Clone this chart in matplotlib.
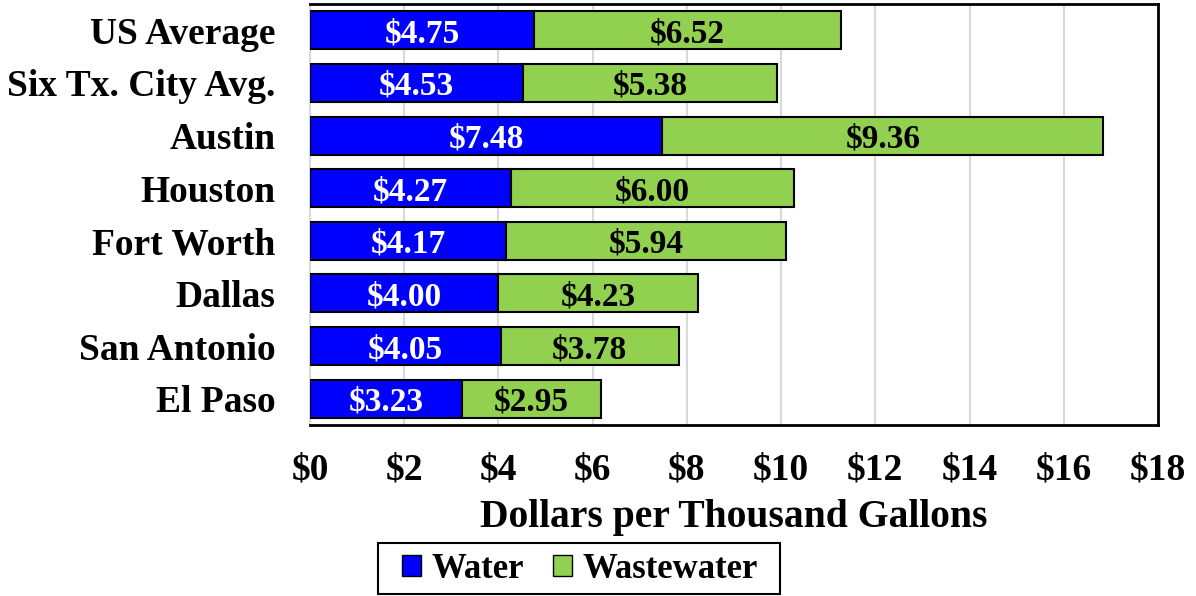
import matplotlib
matplotlib.use("Agg")
import matplotlib.pyplot as plt
from matplotlib.patches import Patch, Rectangle

categories = ["US Average", "Six Tx. City Avg.", "Austin", "Houston",
              "Fort Worth", "Dallas", "San Antonio", "El Paso"]
water = [4.75, 4.53, 7.48, 4.27, 4.17, 4.00, 4.05, 3.23]
wastewater = [6.52, 5.38, 9.36, 6.00, 5.94, 4.23, 3.78, 2.95]
xticks = [0, 2, 4, 6, 8, 10, 12, 14, 16, 18]
xlabel = "Dollars per Thousand Gallons"

plt.rcParams['font.family'] = ['Liberation Serif', 'DejaVu Serif']
plt.rcParams['font.weight'] = 'bold'

W, H = 1196, 596
fig = plt.figure(figsize=(W/100, H/100), dpi=100)
ax = fig.add_axes([310/W, 1-425/H, (1158-310)/W, (425-4)/H])

n = len(categories)
ypos = [n - 1 - i for i in range(n)]
h = 0.72
blue = "#0000FF"
green = "#92D050"
ax.barh(ypos, water, height=h, color=blue, edgecolor="black", linewidth=1.5, zorder=3)
ax.barh(ypos, wastewater, left=water, height=h, color=green, edgecolor="black", linewidth=1.5, zorder=3)

for y, w, ww in zip(ypos, water, wastewater):
    ax.text(w/2, y, f"${w:.2f}", ha="center", va="center_baseline", color="white",
            fontsize=24, fontweight="bold", zorder=4)
    ax.text(w + ww/2, y, f"${ww:.2f}", ha="center", va="center_baseline", color="black",
            fontsize=24, fontweight="bold", zorder=4)

ax.set_xlim(0, 18)
ax.set_ylim(-0.5, n - 0.5)
ax.set_xticks(xticks)
ax.set_xticklabels([f"${t}" for t in xticks], fontsize=27, fontweight="bold")
ax.set_yticks(ypos)
ax.set_yticklabels(categories, fontsize=27, fontweight="bold", va="center_baseline")
ax.tick_params(axis="both", length=0)
ax.tick_params(axis="x", pad=20)
ax.tick_params(axis="y", pad=25)
ax.grid(axis="x", color="#D9D9D9", linewidth=1.5, zorder=0)
ax.set_axisbelow(True)
for s in ["top", "right", "bottom"]:
    ax.spines[s].set_color("black")
    ax.spines[s].set_linewidth(2)
ax.spines["left"].set_color("#D9D9D9")
ax.spines["left"].set_linewidth(1.5)

ax.set_xlabel(xlabel, fontsize=28.5, fontweight="bold", labelpad=8)

# legend box
fig.add_artist(Rectangle((378/W, 1-594/H), (780-378)/W, (594-543)/H,
                         transform=fig.transFigure, facecolor="white",
                         edgecolor="black", linewidth=1.5, zorder=1))
handles = [Patch(facecolor=blue, edgecolor="black", label="Water"),
           Patch(facecolor=green, edgecolor="black", label="Wastewater")]
leg = fig.legend(handles=handles, loc="center", bbox_to_anchor=(580/W, 1-569/H),
                 ncol=2, fontsize=25, frameon=False,
                 handlelength=0.55, handleheight=0.55, handletextpad=0.3, columnspacing=0.85,
                 borderpad=0.2)
leg.set_zorder(2)

fig.savefig("out.png", dpi=100)
